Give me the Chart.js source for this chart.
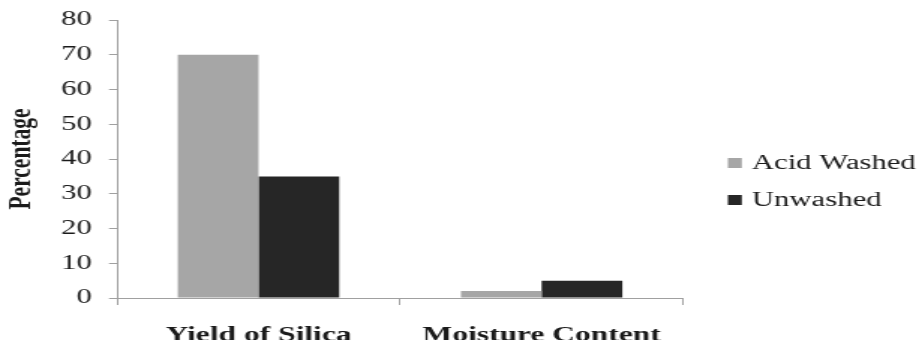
<!DOCTYPE html>
<html>
<head>
<meta charset="utf-8">
<script src="https://cdn.jsdelivr.net/npm/chart.js@4/dist/chart.umd.min.js"></script>
<style>
  html, body { margin: 0; padding: 0; background: #ffffff; overflow: hidden; }
  #wrap { width: 613px; height: 340px; transform: scaleX(1.4992); transform-origin: 0 0; }
  canvas { display: block; }
</style>
</head>
<body>
<div id="wrap"><canvas id="chart" width="613" height="340"></canvas></div>
<script>
// Categories and series
const categories = ['Yield of Silica', 'Moisture Content'];
const seriesNames = ['Acid Washed', 'Unwashed'];
const acidWashed = [70, 2];
const unwashed = [35, 5];
const yTicks = [0, 10, 20, 30, 40, 50, 60, 70, 80];

const AXIS = '#a0a0a0';
const TEXT = '#1a1a1a';
const SERIF = '"Liberation Serif", "Times New Roman", serif';

// Legend drawn at the right, one row per dataset
const sideLegend = {
  id: 'sideLegend',
  afterDraw(chart) {
    const ctx = chart.ctx;
    const rows = [163, 200];
    ctx.save();
    ctx.font = '20.5px ' + SERIF;
    ctx.textBaseline = 'middle';
    ctx.textAlign = 'left';
    chart.data.datasets.forEach((ds, i) => {
      const y = rows[i];
      ctx.fillStyle = ds.backgroundColor;
      ctx.fillRect(485.5, y - 5, 9.3, 10);
      ctx.fillStyle = TEXT;
      ctx.fillText(ds.label, 501.5, y + 1);
    });
    ctx.restore();
  }
};

new Chart(document.getElementById('chart'), {
  type: 'bar',
  data: {
    labels: categories,
    datasets: [
      { label: seriesNames[0], data: acidWashed, backgroundColor: '#a6a6a6' },
      { label: seriesNames[1], data: unwashed, backgroundColor: '#262626' }
    ]
  },
  options: {
    responsive: false,
    animation: false,
    devicePixelRatio: 1,
    layout: { padding: { top: 20, right: 157.3, bottom: 0, left: 0 } },
    datasets: { bar: { categoryPercentage: 0.57, barPercentage: 1.0 } },
    plugins: { legend: { display: false }, tooltip: { enabled: false } },
    scales: {
      x: {
        afterFit(scale) { scale.height = 42; },
        border: { display: true, color: AXIS, width: 1 },
        grid: { display: true, offset: true, drawOnChartArea: false, drawTicks: true, tickLength: 7, color: AXIS },
        ticks: { color: TEXT, padding: 18, font: { family: SERIF, size: 21, weight: 'bold' } }
      },
      y: {
        min: 0,
        max: 80,
        afterFit(scale) {
          scale.width = 78;
          scale.paddingTop = 0;
          scale.paddingBottom = 0;
        },
        afterBuildTicks(scale) { scale.ticks = yTicks.map(v => ({ value: v })); },
        border: { display: true, color: AXIS, width: 1 },
        grid: { display: true, drawOnChartArea: false, drawTicks: true, tickLength: 5.3, color: AXIS },
        ticks: { color: TEXT, padding: 11.4, font: { family: SERIF, size: 20.5 } },
        title: {
          display: true,
          text: 'Percentage',
          color: TEXT,
          padding: { top: 2, bottom: 0 },
          font: { family: SERIF, size: 21.5, weight: 'bold' }
        }
      }
    }
  },
  plugins: [sideLegend]
});
</script>
</body>
</html>
